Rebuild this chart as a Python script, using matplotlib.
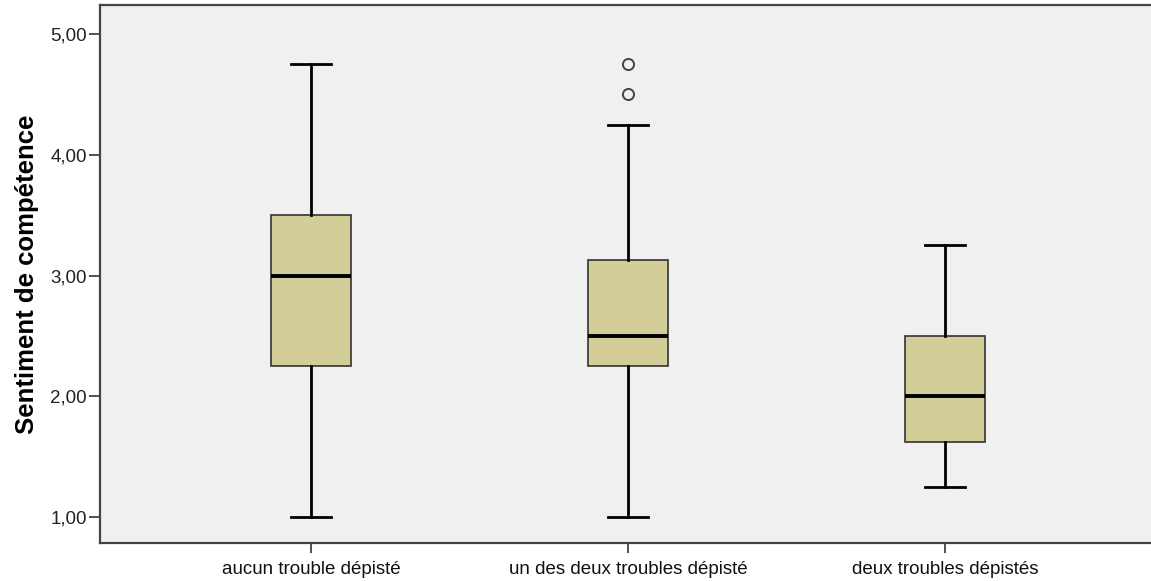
import matplotlib
matplotlib.use("Agg")
import matplotlib.pyplot as plt

plt.rcParams['font.family'] = ['Liberation Sans', 'DejaVu Sans']

# Box statistics
categories = ["aucun trouble dépisté", "un des deux troubles dépisté", "deux troubles dépistés"]
whislo = [1.00, 1.00, 1.25]
q1 = [2.25, 2.25, 1.625]
med = [3.00, 2.50, 2.00]
q3 = [3.50, 3.125, 2.50]
whishi = [4.75, 4.25, 3.25]
fliers = [[], [4.50, 4.75], []]

yticks = [1, 2, 3, 4, 5]
ytick_labels = ["1,00", "2,00", "3,00", "4,00", "5,00"]

stats = []
for i, name in enumerate(categories):
    stats.append(dict(label=name, whislo=whislo[i], q1=q1[i], med=med[i],
                      q3=q3[i], whishi=whishi[i], fliers=fliers[i]))

W, H = 1151, 581
fig = plt.figure(figsize=(W / 100, H / 100), dpi=100)
ax = fig.add_axes([100 / W, 38 / H, 1056 / W, 538 / H])
ax.set_facecolor("#f0f0f0")

ax.bxp(stats, positions=[1, 2, 3], widths=0.25, patch_artist=True,
       boxprops=dict(facecolor="#d3ce97", edgecolor="#333333", linewidth=1.2),
       medianprops=dict(color="black", linewidth=2.8),
       whiskerprops=dict(color="black", linewidth=2),
       capprops=dict(color="black", linewidth=2),
       flierprops=dict(marker="o", markerfacecolor="none", markeredgecolor="#444444",
                       markersize=8, markeredgewidth=1.4))

ax.set_xlim(0.335, 3.665)
ax.set_ylim(0.785, 5.24)
ax.set_yticks(yticks)
ax.set_yticklabels(ytick_labels, fontsize=13.5, color="#222222")
ax.set_xticks([1, 2, 3])
ax.set_xticklabels(categories, fontsize=13.5, color="#111111")
ax.tick_params(axis="y", length=8, width=1.2, color="#333333", pad=1.5)
ax.tick_params(axis="x", length=7, width=1.2, color="#333333", pad=6)

for s in ["left", "bottom", "top"]:
    ax.spines[s].set_color("#444444")
    ax.spines[s].set_linewidth(1.6)
ax.spines["right"].set_visible(False)

ax.set_ylabel("Sentiment de compétence", fontsize=18.5, fontweight="bold", labelpad=8)

fig.savefig("out.png", dpi=100)
